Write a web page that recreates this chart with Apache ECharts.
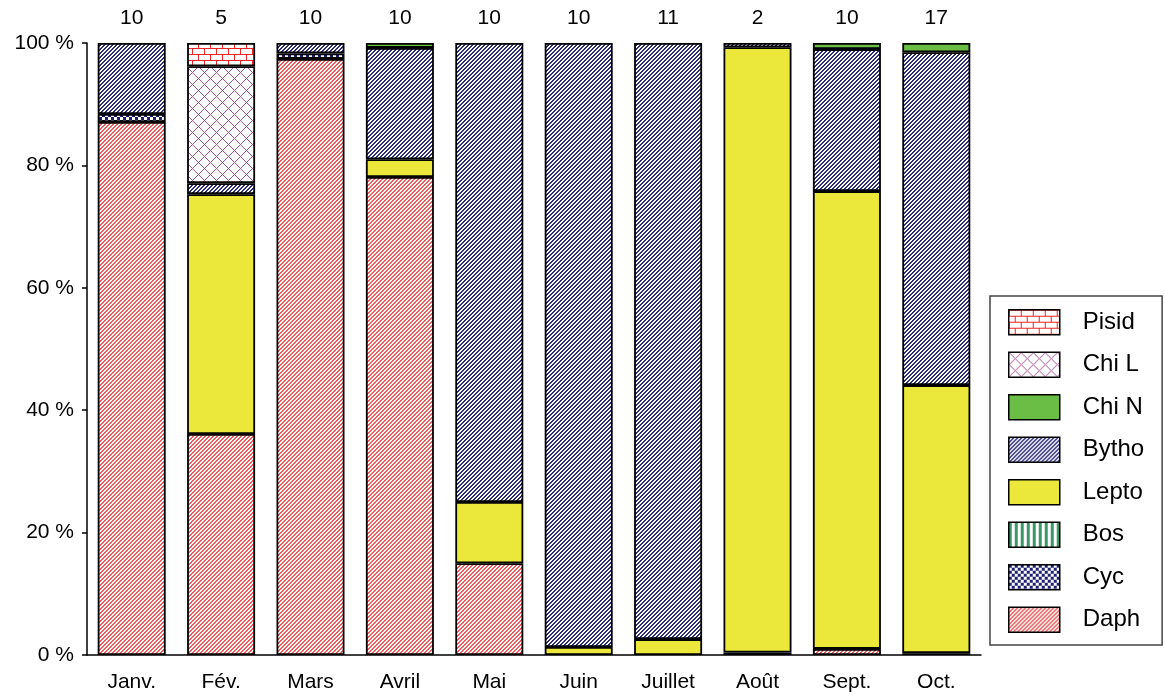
<!DOCTYPE html>
<html>
<head>
<meta charset="utf-8">
<script src="https://cdn.jsdelivr.net/npm/echarts@6/dist/echarts.min.js"></script>
<style>
  html, body { margin: 0; padding: 0; background: #fff; }
  #chart { width: 1165px; height: 697px; }
</style>
</head>
<body>
<div id="chart"></div>
<script>
// Monthly composition (%) of prey groups, with sample counts shown above each bar
const months = ['Janv.', 'Fév.', 'Mars', 'Avril', 'Mai', 'Juin', 'Juillet', 'Août', 'Sept.', 'Oct.'];
const counts = ['10', '5', '10', '10', '10', '10', '11', '2', '10', '17'];
const yTicks = [0, 20, 40, 60, 80, 100];

const daph  = [87.1, 36.1, 97.4, 78.1, 15.0, 0, 0, 0.4, 1.0, 0.3];
const cyc   = [1.3, 0, 0.9, 0, 0, 0, 0, 0, 0, 0];
const bos   = [0, 0, 0, 0, 0, 0, 0, 0, 0, 0];
const lepto = [0, 39.2, 0, 2.9, 10.0, 1.3, 2.6, 98.9, 74.8, 43.8];
const bytho = [11.6, 1.8, 1.7, 18.2, 75.0, 98.7, 97.4, 0.7, 23.2, 54.4];
const chiN  = [0, 0, 0, 0.8, 0, 0, 0, 0, 1.0, 1.5];
const chiL  = [0, 19.1, 0, 0, 0, 0, 0, 0, 0, 0];
const pisid = [0, 3.8, 0, 0, 0, 0, 0, 0, 0, 0];

// Pixel tiles used as fill patterns
function tile(w, h, bg, fg, test) {
  const c = document.createElement('canvas');
  c.width = w; c.height = h;
  const ctx = c.getContext('2d');
  ctx.fillStyle = bg;
  ctx.fillRect(0, 0, w, h);
  ctx.fillStyle = fg;
  for (let y = 0; y < h; y++) {
    for (let x = 0; x < w; x++) {
      if (test(x, y)) ctx.fillRect(x, y, 1, 1);
    }
  }
  return { image: c, repeat: 'repeat' };
}

const patDaph = tile(8, 8, '#ffffff', '#f05a5a', (x, y) => ((x + y) % 4) < 2);
const patBytho = tile(8, 8, '#ffffff', '#2b2b78', (x, y) => ((x + y) % 4) < 2);
const patChiL = tile(12, 12, '#ffffff', '#a8508f', (x, y) => ((x + y) % 12) === 0 || ((x - y + 24) % 12) === 0);
const patPisid = tile(12, 12, '#ffffff', '#f02424', (x, y) =>
  y === 0 || y === 6 || (y < 6 && x === 0) || (y > 6 && x === 6));
const patCyc = tile(6, 6, '#ffffff', '#1f1f72', (x, y) => {
  const d1 = Math.hypot(x + 0.5 - 1.5, y + 0.5 - 1.5);
  const d2 = Math.hypot(x + 0.5 - 4.5, y + 0.5 - 4.5);
  return d1 < 1.9 || d2 < 1.9;
});
const patBos = tile(6, 6, '#ffffff', '#399866', (x, y) => (x % 6) < 3);

const FONT = 'Liberation Sans, Arial, sans-serif';
const border = { borderColor: '#000', borderWidth: 1.8 };

// Empty segments are left out so they draw no outline
function bar(name, data, color) {
  return {
    name: name,
    type: 'bar',
    stack: 'total',
    barWidth: 68,
    data: data.map(v => (v === 0 ? '-' : v)),
    itemStyle: Object.assign({ color: color }, border),
    emphasis: { disabled: true }
  };
}

const legendNames = ['Pisid', 'Chi L', 'Chi N', 'Bytho', 'Lepto', 'Bos', 'Cyc', 'Daph'];

const chart = echarts.init(document.getElementById('chart'), null, { renderer: 'canvas' });
chart.setOption({
  animation: false,
  backgroundColor: '#ffffff',
  grid: { left: 87, right: 184, top: 43, bottom: 42, containLabel: false },
  legend: {
    orient: 'vertical',
    left: 990,
    top: 296,
    padding: [13, 18, 12, 18],
    itemWidth: 51,
    itemHeight: 25,
    itemGap: 16,
    borderColor: '#444',
    borderWidth: 1.5,
    icon: 'rect',
    data: legendNames.map(n => ({ name: n, icon: 'rect' })),
    itemStyle: { borderColor: '#000', borderWidth: 1.5 },
    textStyle: { fontFamily: FONT, fontSize: 24, color: '#000', padding: [0, 0, 0, 18] },
    selectedMode: false
  },
  xAxis: [
    {
      type: 'category',
      data: months,
      position: 'bottom',
      axisLine: { lineStyle: { color: '#000', width: 1.5 } },
      axisTick: { length: 6, lineStyle: { color: '#000', width: 1.5 } },
      axisLabel: { fontFamily: FONT, fontSize: 21, color: '#000', margin: 17 }
    },
    {
      type: 'category',
      data: counts,
      position: 'top',
      axisLine: { show: false },
      axisTick: { show: false },
      axisLabel: { fontFamily: FONT, fontSize: 21, color: '#000', margin: 14 }
    }
  ],
  yAxis: {
    type: 'value',
    min: yTicks[0],
    max: yTicks[yTicks.length - 1],
    interval: yTicks[1] - yTicks[0],
    axisLine: { show: true, lineStyle: { color: '#000', width: 1.5 } },
    axisTick: { show: true, length: 5, lineStyle: { color: '#000', width: 1.5 } },
    splitLine: { show: false },
    axisLabel: { fontFamily: FONT, fontSize: 21, color: '#000', margin: 13, formatter: '{value} %' }
  },
  series: [
    bar('Daph', daph, patDaph),
    bar('Cyc', cyc, patCyc),
    bar('Bos', bos, patBos),
    bar('Lepto', lepto, '#ece83b'),
    bar('Bytho', bytho, patBytho),
    bar('Chi N', chiN, '#6abd45'),
    bar('Chi L', chiL, patChiL),
    bar('Pisid', pisid, patPisid)
  ]
});
</script>
</body>
</html>
